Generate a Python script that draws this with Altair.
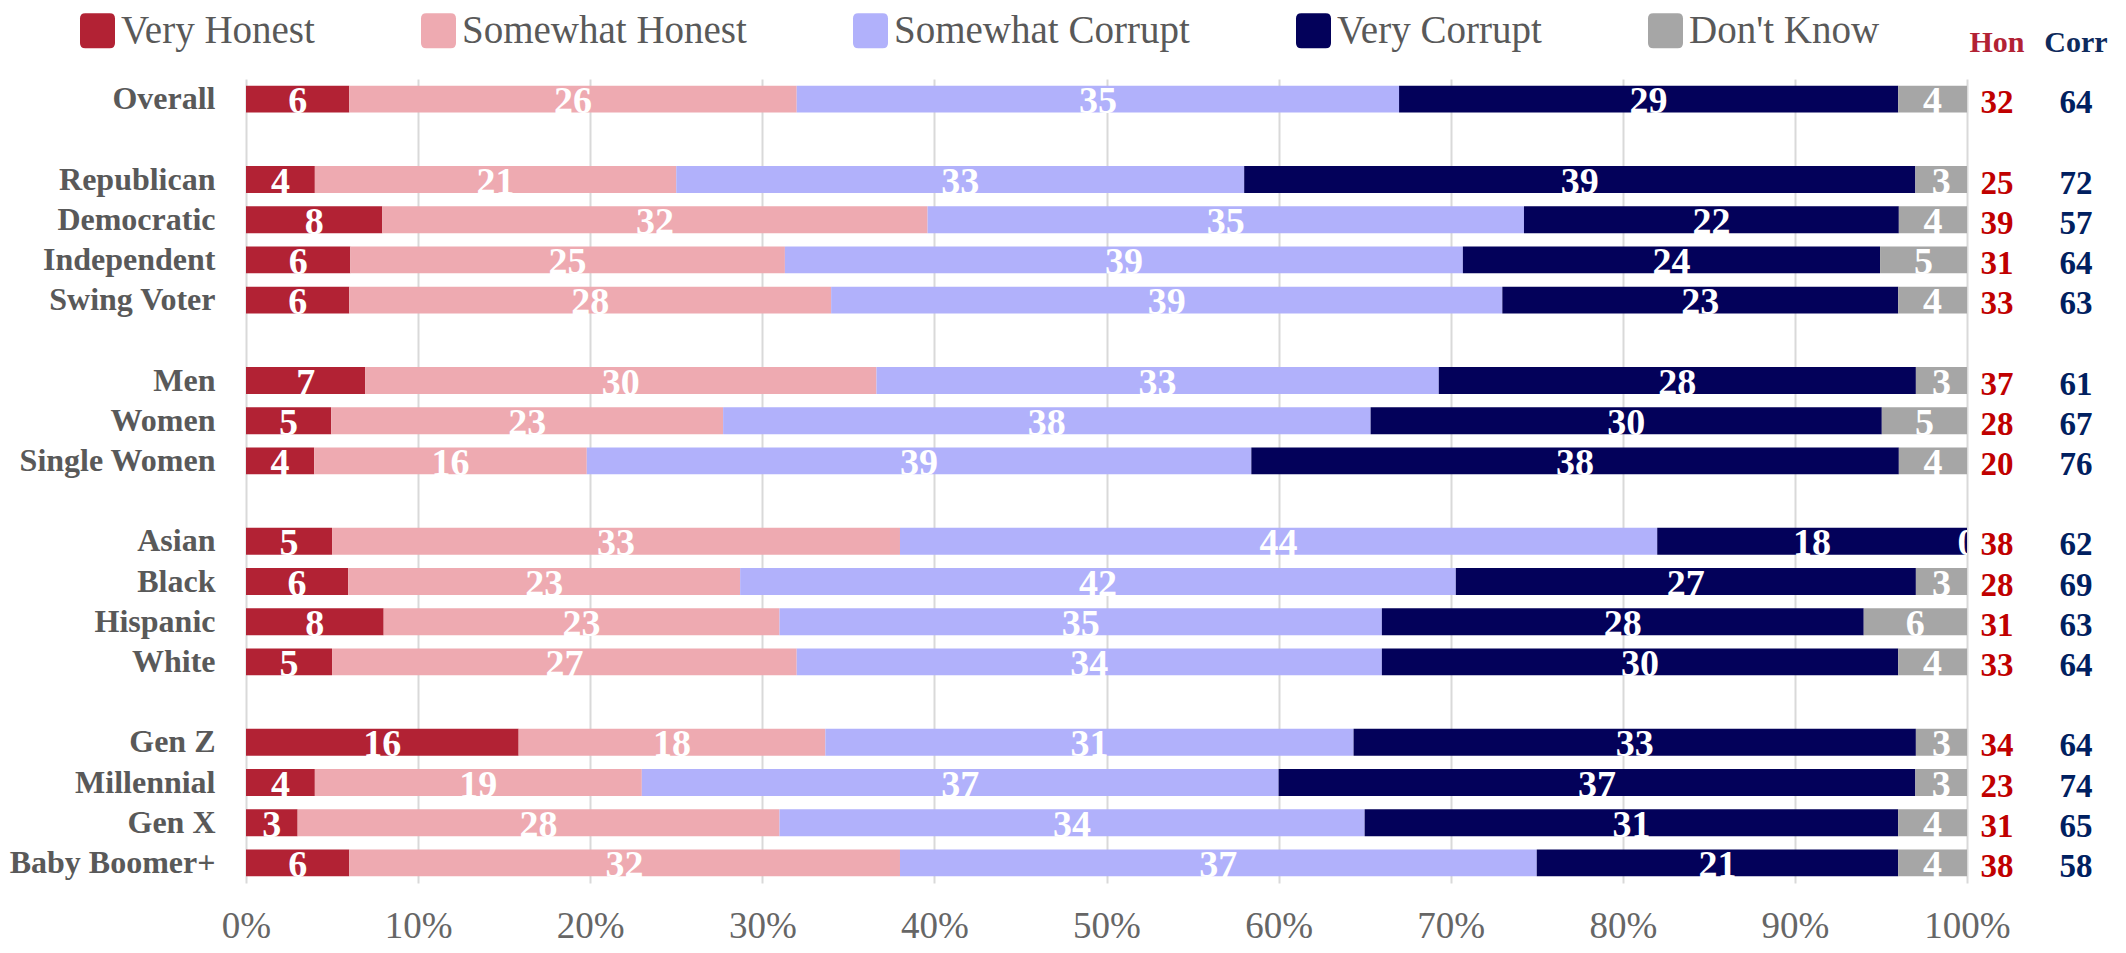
import altair as alt
import pandas as pd

FONT = "Liberation Serif"

categories = ["Overall", "Republican", "Democratic", "Independent", "Swing Voter",
              "Men", "Women", "Single Women", "Asian", "Black", "Hispanic", "White",
              "Gen Z", "Millennial", "Gen X", "Baby Boomer+"]
row_order = ["Overall", "_gap1", "Republican", "Democratic", "Independent", "Swing Voter",
             "_gap2", "Men", "Women", "Single Women", "_gap3", "Asian", "Black", "Hispanic",
             "White", "_gap4", "Gen Z", "Millennial", "Gen X", "Baby Boomer+"]

series = ["Very Honest", "Somewhat Honest", "Somewhat Corrupt", "Very Corrupt", "Don't Know"]
colors = ["#B22234", "#EEAAB1", "#B1B1FB", "#03015A", "#A6A6A6"]

very_honest = [6, 4, 8, 6, 6, 7, 5, 4, 5, 6, 8, 5, 16, 4, 3, 6]
somewhat_honest = [26, 21, 32, 25, 28, 30, 23, 16, 33, 23, 23, 27, 18, 19, 28, 32]
somewhat_corrupt = [35, 33, 35, 39, 39, 33, 38, 39, 44, 42, 35, 34, 31, 37, 34, 37]
very_corrupt = [29, 39, 22, 24, 23, 28, 30, 38, 18, 27, 28, 30, 33, 37, 31, 21]
dont_know = [4, 3, 4, 5, 4, 3, 5, 4, 0, 3, 6, 4, 3, 3, 4, 4]

hon = [32, 25, 39, 31, 33, 37, 28, 20, 38, 28, 31, 33, 34, 23, 31, 38]
corr = [64, 72, 57, 64, 63, 61, 67, 76, 62, 69, 63, 64, 64, 74, 65, 58]
headers = ["Hon", "Corr"]
tick_values = [0, 0.1, 0.2, 0.3, 0.4, 0.5, 0.6, 0.7, 0.8, 0.9, 1.0]

all_series = [very_honest, somewhat_honest, somewhat_corrupt, very_corrupt, dont_know]
records = []
for i, c in enumerate(categories):
    for j, s in enumerate(series):
        records.append({"cat": c, "series": s, "order": j, "value": all_series[j][i]})
df = pd.DataFrame(records)
df_tot = pd.DataFrame({"cat": categories, "hon": hon, "corr": corr})

rounded = ("M-1,-0.7 Q-1,-1 -0.7,-1 L0.7,-1 Q1,-1 1,-0.7 L1,0.7 Q1,1 0.7,1 "
           "L-0.7,1 Q-1,1 -1,0.7 Z")

yenc = alt.Y(
    "cat:N", sort=row_order,
    scale=alt.Scale(domain=row_order, paddingInner=0.33, paddingOuter=0.165),
    axis=alt.Axis(title=None,
                  labelExpr="indexof(datum.value,'_gap')==0 ? '' : datum.value",
                  labelFont=FONT, labelFontSize=32, labelFontWeight="bold",
                  labelColor="#595959", labelPadding=31, labelLimit=500,
                  ticks=False, domain=False, grid=False),
)

xscale = alt.Scale(domain=[0, 1], nice=False, zero=False)

base = alt.Chart(df).transform_stack(
    stack="value", groupby=["cat"], as_=["x0", "x1"],
    sort=[alt.SortField("order", order="ascending")], offset="normalize",
).transform_calculate(xm="(datum.x0 + datum.x1) / 2")

bars = base.mark_bar().encode(
    x=alt.X("x0:Q", scale=xscale,
            axis=alt.Axis(title=None, format=".0%", values=tick_values, grid=True,
                          gridColor="#D9D9D9", gridWidth=2, ticks=False, tickSize=0,
                          domain=False, labelFont=FONT, labelFontSize=37,
                          labelColor="#666666", labelPadding=25, labelFlush=False)),
    x2="x1:Q",
    y=yenc,
    color=alt.Color("series:N", scale=alt.Scale(domain=series, range=colors),
                    legend=alt.Legend(title=None, orient="none", legendX=-168,
                                      legendY=-68, direction="horizontal",
                                      columns=5, columnPadding=104, labelOffset=4,
                                      labelFont=FONT, labelFontSize=39,
                                      labelColor="#595959", labelLimit=600,
                                      symbolType=rounded, symbolSize=1225,
                                      symbolStrokeWidth=0, symbolOpacity=1,
                                      padding=0)),
)

labels = base.mark_text(color="white", font=FONT, fontSize=38, fontWeight="bold",
                        dy=3, clip=True).encode(
    x=alt.X("xm:Q", scale=xscale),
    y=yenc,
    text="value:Q",
)

hon_text = alt.Chart(df_tot).mark_text(font=FONT, fontSize=33, fontWeight="bold",
                                       color="#C00000", dy=4).encode(
    x=alt.value(1751), y=yenc, text="hon:Q")
corr_text = alt.Chart(df_tot).mark_text(font=FONT, fontSize=33, fontWeight="bold",
                                        color="#002060", dy=4).encode(
    x=alt.value(1830), y=yenc, text="corr:Q")

hdr_hon = alt.Chart(pd.DataFrame({"h": [headers[0]]})).mark_text(
    font=FONT, fontSize=30, fontWeight="bold", color="#B22234").encode(
    x=alt.value(1751), y=alt.value(-36), text="h:N")
hdr_corr = alt.Chart(pd.DataFrame({"h": [headers[1]]})).mark_text(
    font=FONT, fontSize=30, fontWeight="bold", color="#0E2A5C").encode(
    x=alt.value(1830), y=alt.value(-36), text="h:N")

chart = alt.layer(bars, labels, hon_text, corr_text, hdr_hon, hdr_corr).properties(
    width=1721, height=804,
    padding={"left": 238, "top": 71, "right": 151, "bottom": 62},
    autosize=alt.AutoSizeParams(type="none"),
).configure_view(stroke=None)

chart.save("out.html", embed_options={"renderer": "svg", "actions": False})
